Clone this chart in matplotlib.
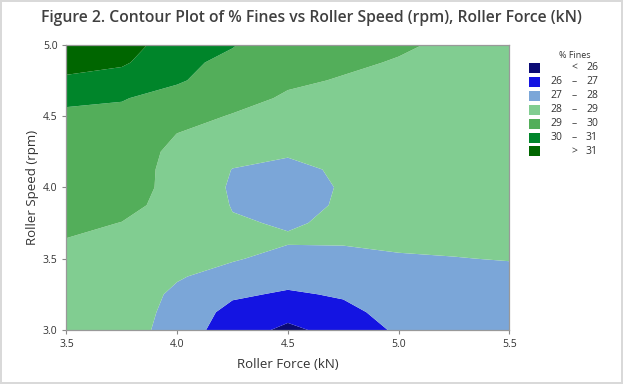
import numpy as np
import matplotlib
matplotlib.use("Agg")
import matplotlib.pyplot as plt
from matplotlib.patches import Rectangle

# grid: roller force (x) and roller speed (y)
force = [3.5, 3.75, 4.0, 4.25, 4.5, 4.75, 5.0, 5.25, 5.5]
speed = [3.0, 3.125, 3.25, 3.375, 3.5, 3.625, 3.75, 3.875, 4.0,
         4.125, 4.25, 4.375, 4.5, 4.625, 4.75, 4.875, 5.0]

# % fines, one list per force column (bottom to top in speed)
f350 = [28.36, 28.48, 28.60, 28.72, 28.85, 28.98, 29.11, 29.24, 29.37, 29.50, 29.62, 29.74, 29.90, 30.10, 30.82, 31.40, 31.95]
f375 = [28.45, 28.50, 28.56, 28.63, 28.72, 28.85, 28.99, 29.13, 29.26, 29.39, 29.52, 29.65, 29.80, 30.05, 30.55, 31.15, 31.60]
f400 = [27.60, 27.70, 27.82, 28.08, 28.35, 28.58, 28.75, 28.84, 28.82, 28.75, 28.78, 28.99, 29.30, 29.68, 30.10, 30.20, 30.30]
f425 = [26.45, 26.70, 27.15, 27.65, 28.08, 28.15, 28.08, 27.95, 27.88, 27.98, 28.30, 28.62, 28.95, 29.28, 29.55, 29.80, 30.05]
f450 = [25.80, 26.30, 26.88, 27.35, 27.72, 28.08, 27.93, 27.72, 27.65, 27.80, 28.10, 28.38, 28.65, 28.90, 29.12, 29.30, 29.45]
f475 = [26.35, 26.75, 27.10, 27.45, 27.78, 28.08, 28.12, 28.10, 28.07, 28.12, 28.25, 28.40, 28.58, 28.77, 28.95, 29.12, 29.28]
f500 = [27.16, 27.35, 27.53, 27.71, 27.95, 28.10, 28.23, 28.30, 28.35, 28.40, 28.47, 28.55, 28.64, 28.73, 28.83, 28.95, 29.10]
f525 = [27.28, 27.42, 27.56, 27.72, 27.98, 28.15, 28.28, 28.36, 28.42, 28.48, 28.54, 28.60, 28.66, 28.72, 28.77, 28.82, 28.87]
f550 = [27.38, 27.52, 27.66, 27.82, 28.03, 28.18, 28.30, 28.38, 28.44, 28.50, 28.55, 28.60, 28.65, 28.70, 28.74, 28.78, 28.82]

levels = [20, 26, 27, 28, 29, 30, 31, 40]
legend_labels = [("", "<", "26"), ("26", "\u2013", "27"), ("27", "\u2013", "28"),
                 ("28", "\u2013", "29"), ("29", "\u2013", "30"), ("30", "\u2013", "31"),
                 ("", ">", "31")]
colors = ["#0b0b75", "#1414e2", "#7ba6d8", "#81cd91", "#53ae5a", "#00852a", "#006600"]

plt.rcParams["font.family"] = ["Open Sans", "DejaVu Sans"]

Z = np.column_stack([f350, f375, f400, f425, f450, f475, f500, f525, f550])
X, Y = np.meshgrid(force, speed)

fig = plt.figure(figsize=(6.23, 3.84), dpi=100)
fig.patch.set_edgecolor("#d9d9d9")
fig.patch.set_linewidth(1.5)
ax = fig.add_axes([0.1067, 0.1406, 0.7108, 0.743])
ax.contourf(X, Y, Z, levels=levels, colors=colors, antialiased=True)

ax.set_xlim(3.5, 5.5)
ax.set_ylim(3.0, 5.0)
ax.set_xticks([3.5, 4.0, 4.5, 5.0, 5.5])
ax.set_yticks([3.0, 3.5, 4.0, 4.5, 5.0])
ax.set_xticklabels(["3.5", "4.0", "4.5", "5.0", "5.5"])
ax.set_yticklabels(["3.0", "3.5", "4.0", "4.5", "5.0"])
ax.tick_params(labelsize=7.5, colors="#333333", length=3, width=0.8)
ax.tick_params(axis="both", color="#888888")
for s in ax.spines.values():
    s.set_color("#999999")
    s.set_linewidth(0.9)

ax.set_xlabel("Roller Force (kN)", fontsize=9.5, color="#333333", labelpad=6)
ax.set_ylabel("Roller Speed (rpm)", fontsize=9.5, color="#333333", labelpad=3)
fig.text(0.5, 0.952, "Figure 2. Contour Plot of % Fines vs Roller Speed (rpm), Roller Force (kN)",
         ha="center", va="center", fontsize=11.3, weight="semibold", color="#404040")

# legend drawn by hand
fig.text(574.5 / 623, 1 - 56 / 384, "% Fines", ha="center", va="center", fontsize=6.5, color="#333333")
for i, (c, (a, dash, b)) in enumerate(zip(colors, legend_labels)):
    yc = 68 + i * 13.9
    fig.patches.append(Rectangle((528.5 / 623, 1 - (yc + 5) / 384), 11 / 623, 10 / 384,
                                 transform=fig.transFigure, facecolor=c, edgecolor="none"))
    ty = 1 - yc / 384
    if a:
        fig.text(562 / 623, ty, a, ha="right", va="center", fontsize=7.5, color="#333333")
    fig.text(574 / 623, ty, dash, ha="center", va="center", fontsize=7.5, color="#333333")
    fig.text(598 / 623, ty, b, ha="right", va="center", fontsize=7.5, color="#333333")

fig.savefig("out.png", dpi=100)
